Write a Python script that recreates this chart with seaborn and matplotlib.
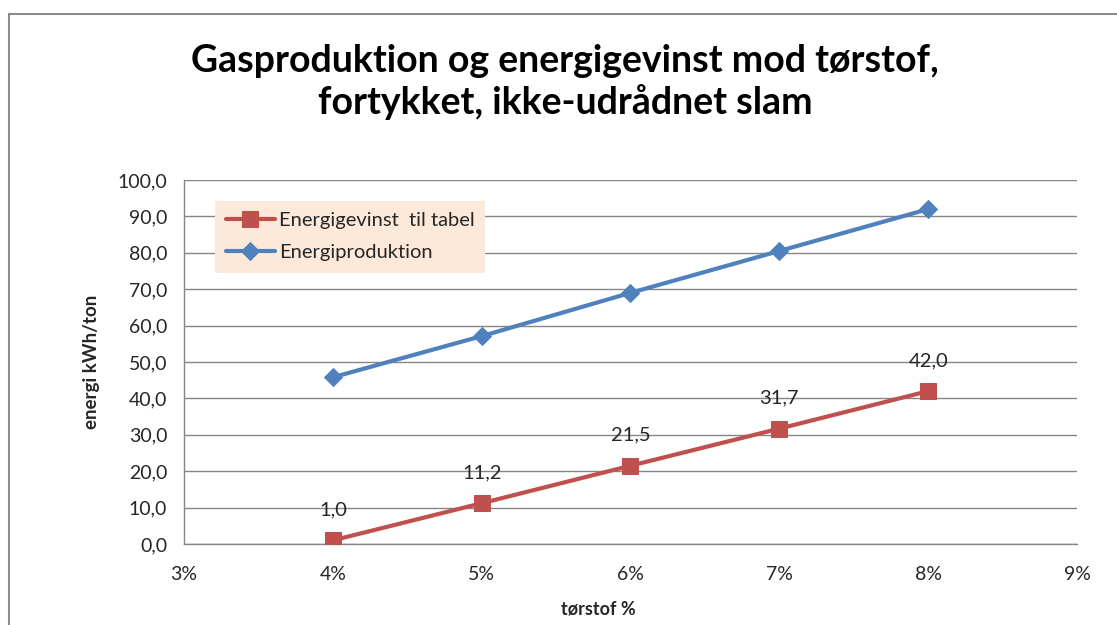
import matplotlib.pyplot as plt
import matplotlib.ticker as mticker
import matplotlib.patches as mpatches
import seaborn as sns
import pandas as pd

sns.set_theme(style="white")
plt.rcParams["font.family"] = ["Lato", "DejaVu Sans"]

# data
torstof = [4, 5, 6, 7, 8]
energigevinst = [1.0, 11.2, 21.5, 31.7, 42.0]
energiproduktion = [45.8, 57.1, 69.0, 80.5, 92.0]
x_ticks = [3, 4, 5, 6, 7, 8, 9]
y_ticks = [0, 10, 20, 30, 40, 50, 60, 70, 80, 90, 100]

df = pd.DataFrame({
    "torstof": torstof,
    "gevinst": energigevinst,
    "produktion": energiproduktion,
})

red = "#C0504D"
blue = "#4F81BD"
grid_c = "#868686"

fig = plt.figure(figsize=(11.17, 6.25), dpi=100)
ax = fig.add_axes([0.1647, 0.1296, 0.7995, 0.5824])

# chart border like excel
fig.patches.append(mpatches.Rectangle((9 / 1117, -0.1), 1.2, 1 - 14 / 625 + 0.1,
                                      transform=fig.transFigure, fill=False,
                                      edgecolor="#8c8c8c", linewidth=1.5))

sns.lineplot(data=df, x="torstof", y="gevinst", ax=ax, color=red, linewidth=3,
             marker="s", markersize=12, markeredgecolor=red,
             label="Energigevinst  til tabel", zorder=4)
sns.lineplot(data=df, x="torstof", y="produktion", ax=ax, color=blue, linewidth=3,
             marker="D", markersize=9, markeredgecolor=blue,
             label="Energiproduktion", zorder=3)

for xv, yv in zip(torstof, energigevinst):
    ax.annotate(f"{yv:.1f}".replace(".", ","), (xv, yv), xytext=(0, 22),
                textcoords="offset points", ha="center", va="center",
                fontsize=14.5, color="#262626")

ax.set_xlim(3, 9)
ax.set_ylim(0, 100)
ax.set_xticks(x_ticks)
ax.set_yticks(y_ticks)
ax.xaxis.set_major_formatter(mticker.FuncFormatter(lambda v, p: f"{v:.0f}%"))
ax.yaxis.set_major_formatter(mticker.FuncFormatter(lambda v, p: f"{v:.1f}".replace(".", ",")))
ax.tick_params(axis="both", direction="out", length=7, width=1, color=grid_c,
               labelsize=14, labelcolor="#262626", pad=5)
ax.tick_params(axis="x", pad=9)

ax.grid(axis="y", color=grid_c, linewidth=1)
ax.set_axisbelow(True)
for s in ["top", "right"]:
    ax.spines[s].set_visible(False)
for s in ["left", "bottom"]:
    ax.spines[s].set_color(grid_c)
    ax.spines[s].set_linewidth(1)

ax.set_xlabel("tørstof %", fontsize=13, fontweight="bold", color="#262626")
ax.set_ylabel("energi kWh/ton", fontsize=13.5, fontweight="bold", color="#262626")
ax.xaxis.set_label_coords(0.464, -0.155)
ax.yaxis.set_label_coords(-0.094, 0.5)

fig.suptitle("Gasproduktion og energigevinst mod tørstof,\nfortykket, ikke-udrådnet slam",
             x=0.506, y=0.93, fontsize=27, fontweight="bold", color="black",
             linespacing=1.2)

leg = ax.legend(loc="upper left", bbox_to_anchor=(0.035, 0.932, 0.302, 0.01),
                mode="expand", frameon=True, fancybox=False, fontsize=14.5,
                handlelength=2.4, handletextpad=0.2, borderpad=0.55,
                labelspacing=0.75, borderaxespad=0)
leg.get_frame().set_facecolor("#FDE9D9")
leg.get_frame().set_edgecolor("none")
leg.get_frame().set_alpha(1)

fig.savefig("out.png", dpi=100)
